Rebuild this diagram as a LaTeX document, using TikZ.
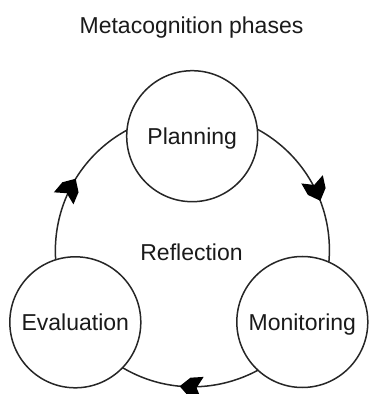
\documentclass[tikz,border=0pt]{standalone}
\usepackage{fontspec}
\setmainfont{Liberation Sans}
\usetikzlibrary{decorations.markings}
\definecolor{linec}{HTML}{262626}
\definecolor{textc}{HTML}{1A1A1A}
\begin{document}
\begin{tikzpicture}[x=1pt,y=1pt,
  txt/.style={text=textc, font=\fontsize{23}{28}\selectfont, inner sep=0pt},
  phase/.style={txt, circle, draw=linec, line width=1.5pt, fill=white,
    minimum size=131pt, text depth=0pt, text height=16.5pt},
  ringnode/.style={circle, minimum size=274.4pt, inner sep=0pt, outer sep=0pt},
  flow/.style={draw=linec, line width=1.5pt, postaction={decorate},
    decoration={markings, mark=at position #1 with
      {\fill[black] (0pt,0pt) -- (-10pt,9.5pt) -- (-23pt,11.5pt) -- (-17pt,0pt)
        -- (-23pt,-11.5pt) -- (-10pt,-9.5pt) -- cycle;}}}
]
\useasboundingbox (0,0) rectangle (368,394);
\node[txt, anchor=base] (title) at (191.5,360.7) {Metacognition phases};
\node[ringnode] (ring) at (192.2,144) {};
\draw[flow=0.56] (ring.90) arc[start angle=90, end angle=-33.2, radius=137.2];
\draw[flow=0.54] (ring.-33.2) arc[start angle=-33.2, end angle=-148.3, radius=137.2];
\draw[flow=0.52] (ring.-148.3) arc[start angle=-148.3, end angle=-270, radius=137.2];
\node[txt, anchor=base] (refl) at (191.5,133.3) {Reflection};
\node[phase] (plan) at (192.2,257.8) {Planning};
\node[phase] (eval) at (75.3,71.7) {Evaluation};
\node[phase] (mon) at (302.3,72) {Monitoring};
\end{tikzpicture}
\end{document}
